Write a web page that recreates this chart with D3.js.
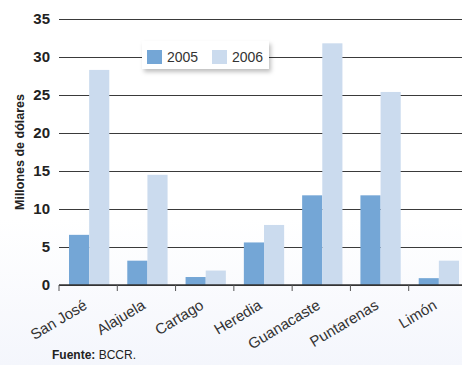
<!DOCTYPE html>
<html>
<head>
<meta charset="utf-8">
<script src="https://cdn.jsdelivr.net/npm/d3@7"></script>
<style>
  body { margin: 0; background: #fff; }
  svg { display: block; font-family: "Liberation Sans", Arial, sans-serif; }
</style>
</head>
<body>
<div id="chart"></div>
<script>
// data
const provinces = ["San José", "Alajuela", "Cartago", "Heredia", "Guanacaste", "Puntarenas", "Limón"];
const years = ["2005", "2006"];
const values2005 = [6.6, 3.2, 1.05, 5.6, 11.8, 11.8, 0.9];
const values2006 = [28.3, 14.5, 1.9, 7.9, 31.8, 25.4, 3.2];
const yTicks = [0, 5, 10, 15, 20, 25, 30, 35];

const W = 462, H = 365;
const margin = { top: 19, right: -5, bottom: 80, left: 59 };
const width = W - margin.left - margin.right,
  height = H - margin.top - margin.bottom;

const colors = { "2005": "#74a6d6", "2006": "#cbdbee" };

const svg = d3.select("#chart").append("svg")
  .attr("width", W).attr("height", H);

// faint background tint at the bottom
const defs = svg.append("defs");
const grad = defs.append("linearGradient").attr("id", "bg")
  .attr("x1", 0).attr("y1", 0).attr("x2", 0).attr("y2", 1);
grad.append("stop").attr("offset", "0.6").attr("stop-color", "#ffffff");
grad.append("stop").attr("offset", "1").attr("stop-color", "#f4f6fc");
svg.append("rect").attr("width", W).attr("height", H).attr("fill", "url(#bg)");

const shadow = defs.append("filter").attr("id", "shadow")
  .attr("x", "-10%").attr("y", "-20%").attr("width", "130%").attr("height", "160%");
shadow.append("feDropShadow").attr("dx", 2).attr("dy", 3)
  .attr("stdDeviation", 2).attr("flood-color", "#000").attr("flood-opacity", 0.25);

const g = svg.append("g").attr("transform", `translate(${margin.left},${margin.top})`);

// scales
const x0 = d3.scaleBand().domain(provinces).range([0, width]).paddingInner(0).paddingOuter(0);
const x1 = d3.scaleBand().domain(years).range([10, x0.bandwidth() - 8]).padding(0);
const y = d3.scaleLinear().domain([0, 35]).range([height, 0]);

// gridlines
g.append("g")
  .call(d3.axisLeft(y).tickValues(yTicks).tickSize(-(W - margin.left)).tickFormat(""))
  .call(s => s.select(".domain").remove())
  .call(s => s.selectAll("line").attr("stroke", "#3a3a3a").attr("stroke-width", 1.2));

// y tick labels
g.append("g")
  .selectAll("text")
  .data(yTicks)
  .join("text")
  .attr("x", -9)
  .attr("y", d => y(d))
  .attr("dy", "0.36em")
  .attr("text-anchor", "end")
  .attr("font-size", 15)
  .attr("font-weight", "bold")
  .attr("fill", "#222")
  .text(d => d);

// bars
const data = provinces.map((p, i) => ({ p, vals: [
  { year: "2005", value: values2005[i] },
  { year: "2006", value: values2006[i] }
] }));

g.append("g")
  .selectAll("g")
  .data(data)
  .join("g")
  .attr("transform", d => `translate(${x0(d.p)},0)`)
  .selectAll("rect")
  .data(d => d.vals)
  .join("rect")
  .attr("x", d => x1(d.year))
  .attr("width", x1.bandwidth())
  .attr("y", d => y(d.value))
  .attr("height", d => height - y(d.value))
  .attr("fill", d => colors[d.year]);

// x axis line and ticks
const xAxis = g.append("g").attr("transform", `translate(0,${height})`);
xAxis.append("line")
  .attr("x1", 0).attr("x2", W - margin.left)
  .attr("stroke", "#333").attr("stroke-width", 1.5);
xAxis.selectAll(".tick")
  .data(provinces)
  .join("line")
  .attr("x1", d => x0(d)).attr("x2", d => x0(d))
  .attr("y1", 0).attr("y2", 6)
  .attr("stroke", "#555").attr("stroke-width", 1);

xAxis.selectAll(".lbl")
  .data(provinces)
  .join("text")
  .attr("transform", d => `translate(${x0(d) + x0.bandwidth() / 2},${23}) rotate(-31)`)
  .attr("text-anchor", "end")
  .attr("font-size", 15)
  .attr("fill", "#333")
  .text(d => d);

// y axis title
svg.append("text")
  .attr("transform", `translate(24,${152}) rotate(-90)`)
  .attr("text-anchor", "middle")
  .attr("font-size", 12.5)
  .attr("font-weight", "bold")
  .attr("fill", "#222")
  .text("Millones de dólares");

// legend
const legend = svg.append("g").attr("transform", "translate(142,41)");
legend.append("rect")
  .attr("width", 127).attr("height", 28)
  .attr("fill", "#fff")
  .attr("filter", "url(#shadow)");
years.forEach((yr, i) => {
  const lg = legend.append("g").attr("transform", `translate(${5 + i * 65},9)`);
  lg.append("rect").attr("width", 15).attr("height", 14).attr("fill", colors[yr]);
  lg.append("text").attr("x", 20).attr("y", 12)
    .attr("font-size", 14).attr("fill", "#333").text(yr);
});

// source
const src = svg.append("text").attr("x", 52).attr("y", 359)
  .attr("font-size", 12).attr("fill", "#222");
src.append("tspan").attr("font-weight", "bold").text("Fuente: ");
src.append("tspan").text("BCCR.");
</script>
</body>
</html>
